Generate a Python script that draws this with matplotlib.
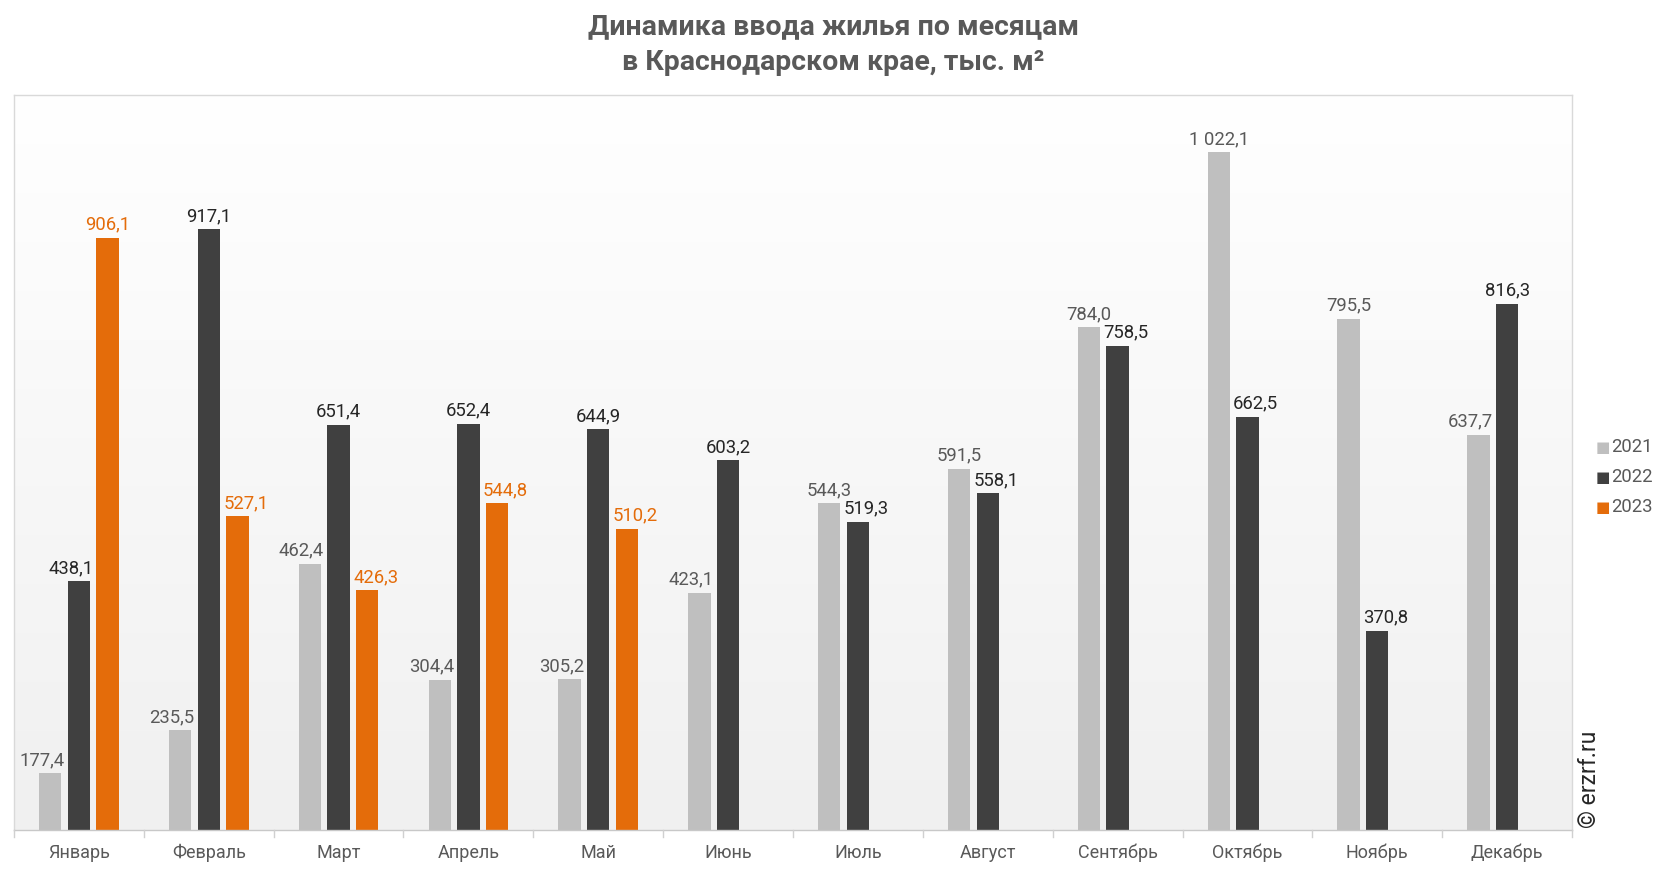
import matplotlib.pyplot as plt
import numpy as np

# data
months = ["Январь", "Февраль", "Март", "Апрель", "Май", "Июнь",
          "Июль", "Август", "Сентябрь", "Октябрь", "Ноябрь", "Декабрь"]
v2021 = [177.4, 235.5, 462.4, 304.4, 305.2, 423.1, 544.3, 591.5, 784.0, 1022.1, 795.5, 637.7]
v2022 = [438.1, 917.1, 651.4, 652.4, 644.9, 603.2, 519.3, 558.1, 758.5, 662.5, 370.8, 816.3]
v2023 = [906.1, 527.1, 426.3, 544.8, 510.2, None, None, None, None, None, None, None]
years = ["2021", "2022", "2023"]

bar_colors = ["#BFBFBF", "#404040", "#E46C0A"]
label_colors = ["#595959", "#262626", "#E46C0A"]

plt.rcParams['font.family'] = ['Roboto', 'DejaVu Sans']

fig = plt.figure(figsize=(16.66, 8.72), dpi=100)
ax = fig.add_axes([14 / 1666, 42 / 872, 1558 / 1666, 735 / 872])

# gradient background
grad = np.linspace(1, 0, 256).reshape(-1, 1)
ax.imshow(grad, extent=[0, 1, 0, 1], transform=ax.transAxes, aspect="auto",
          cmap=plt.matplotlib.colors.LinearSegmentedColormap.from_list(
              "bg", ["#f0f0f0", "#ffffff"]), zorder=0)

x = np.arange(len(months))
width = 0.172
offset = 0.221
ymin = 100


def fmt(v):
    return f"{v:,.1f}".replace(",", " ").replace(".", ",")


series = [v2021, v2022, v2023]


def shift(k, i):
    # move label away from a taller neighbouring bar
    v = series[k][i]
    if k == 0:
        return -6 if series[1][i] > v else 0
    if k == 2:
        return 6 if series[1][i] > v else 0
    if series[2][i] is not None and series[2][i] > v:
        return -6
    if series[0][i] > v:
        return 6
    return 0


for k, vals in enumerate(series):
    for i, v in enumerate(vals):
        if v is None:
            continue
        xi = x[i] + (k - 1) * offset
        ax.bar(xi, v - ymin, bottom=ymin, width=width, color=bar_colors[k], zorder=2)
        ax.annotate(fmt(v), (xi, v), xytext=(shift(k, i), 3), textcoords="offset points",
                    ha="center", va="bottom", fontsize=13.3, color=label_colors[k], zorder=3)

ax.set_xlim(-0.5, 11.5)
ax.set_ylim(ymin, 1100)
ax.set_yticks([])
ax.set_xticks(x)
ax.set_xticklabels(months, fontsize=13, color="#595959")
ax.tick_params(axis="x", length=0, pad=10)

# tick marks at category boundaries
for b in np.arange(-0.5, 12, 1):
    ax.plot([b, b], [ymin, ymin - 9], color="#d0d0d0", lw=1, clip_on=False, zorder=3)

for s in ax.spines.values():
    s.set_color("#d9d9d9")
    s.set_linewidth(1)
ax.spines["bottom"].set_color("#c8c8c8")

fig.text(0.5, 1 - 27 / 872, "Динамика ввода жилья по месяцам", ha="center", va="center",
         fontsize=20.5, fontweight="bold", color="#595959")
fig.text(0.5, 1 - 62 / 872, "в Краснодарском крае, тыс. м²", ha="center", va="center",
         fontsize=20.5, fontweight="bold", color="#595959")

# legend
for k, yr in enumerate(years):
    yy = 1 - (447 + 30 * k) / 872
    fig.text(1596 / 1666, yy, "■", ha="left", va="center", fontsize=11,
             color=bar_colors[k], family=["DejaVu Sans"])
    fig.text(1611 / 1666, yy, yr, ha="left", va="center", fontsize=13.3, color="#595959")

fig.text(1590 / 1666, 1 - 828 / 872, "© erzrf.ru", rotation=90, ha="center", va="bottom",
         fontsize=16.5, color="#262626")

fig.savefig("out.png", dpi=100)
